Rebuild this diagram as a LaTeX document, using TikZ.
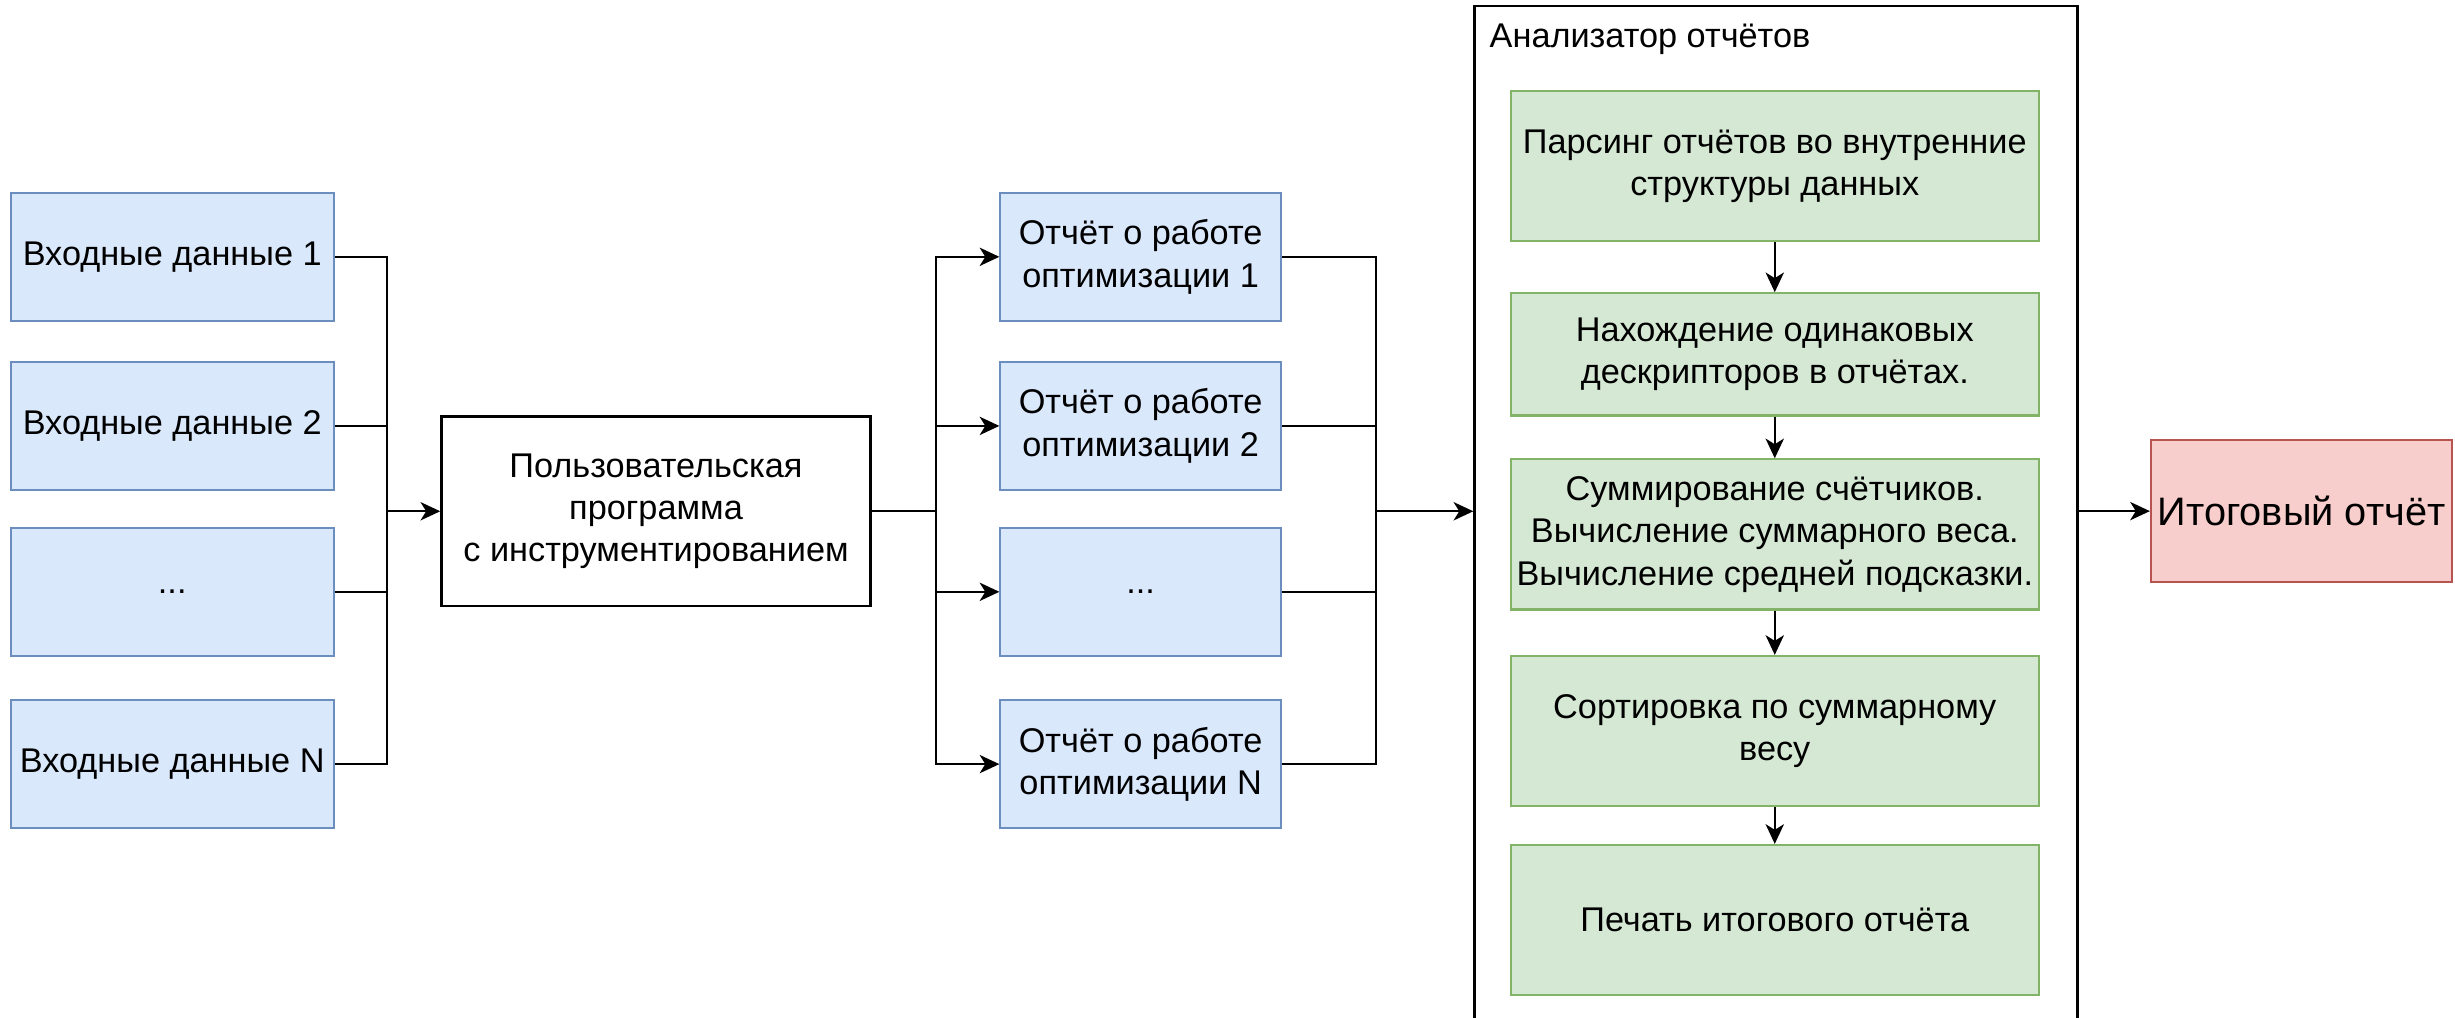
\documentclass[tikz,border=0pt]{standalone}
\usepackage{fontspec}
\setmainfont{Liberation Sans}
\usetikzlibrary{arrows.meta}

\definecolor{bluefill}{HTML}{DAE8FC}
\definecolor{blueline}{HTML}{6C8EBF}
\definecolor{greenfill}{HTML}{D5E8D4}
\definecolor{greenline}{HTML}{82B366}
\definecolor{redfill}{HTML}{F8CECC}
\definecolor{redline}{HTML}{B85450}

\begin{document}
\begin{tikzpicture}[x=0.01cm, y=-0.01cm,
  every node/.style={font=\fontsize{9.75pt}{12pt}\selectfont, align=center, inner sep=0pt},
  wire/.style={line width=0.65pt, draw=black},
  arr/.style={wire, -{Stealth[length=5.6pt, width=5.2pt, inset=1.6pt]}},
  inbox/.style={draw=blueline, fill=bluefill, line width=0.6pt,
    minimum width=3.225cm, minimum height=1.284cm},
  repbox/.style={draw=blueline, fill=bluefill, line width=0.6pt,
    minimum width=2.802cm, minimum height=1.284cm},
  stagebox/.style={draw=greenline, fill=greenfill, line width=0.6pt,
    minimum width=5.275cm, minimum height=1.5cm},
  plainbox/.style={draw=black, line width=0.65pt}]

\clip (0,0) rectangle (2455,1017);

% input data sets
\node[inbox] (in1) at (172.25,256.8) {Входные данные 1};
\node[inbox] (in2) at (172.25,425.9) {Входные данные 2};
\node[inbox] (in3) at (172.25,591.8) {...};
\node[inbox] (inN) at (172.25,764.1) {Входные данные N};

% instrumented user program
\node[plainbox, minimum width=4.29cm, minimum height=1.895cm] (prog) at (656,511.25)
  {Пользовательская\\программа\\с инструментированием};

% optimisation reports
\node[repbox] (r1) at (1140.6,256.8) {Отчёт о работе\\оптимизации 1};
\node[repbox] (r2) at (1140.6,425.9) {Отчёт о работе\\оптимизации 2};
\node[repbox] (r3) at (1140.6,591.8) {...};
\node[repbox] (rN) at (1140.6,764.1) {Отчёт о работе\\оптимизации N};

% report analyser container
\node[plainbox, anchor=north west, minimum width=6.028cm, minimum height=10.5cm]
  (analyzer) at (1473.3,4.7) {};
\node[anchor=west] (title) at (1489,39) {Анализатор отчётов};

% analyser stages
\node[stagebox] (s1) at (1774.75,165.9) {Парсинг отчётов во внутренние\\структуры данных};
\node[stagebox, minimum height=1.222cm] (s2) at (1774.75,354.4)
  {Нахождение одинаковых\\дескрипторов в отчётах.};
\node[stagebox] (s3) at (1774.75,534.4)
  {Суммирование счётчиков.\\Вычисление суммарного веса.\\Вычисление средней подсказки.};
\node[stagebox] (s4) at (1774.75,731) {Сортировка по суммарному\\весу};
\node[stagebox] (s5) at (1774.75,920) {Печать итогового отчёта};

% final report
\node[draw=redline, fill=redfill, line width=0.6pt, minimum width=3.01cm,
  minimum height=1.425cm, font=\fontsize{11.3pt}{13.6pt}\selectfont]
  (final) at (2301.5,511.1) {Итоговый отчёт};

% bus junctions
\coordinate (b1) at (386.7,511.25);
\coordinate (b2) at (936.3,511.25);
\coordinate (b3) at (1376.2,511.25);

% inputs to program
\draw[wire] (in1.east) -| (b1);
\draw[wire] (in2.east) -| (b1);
\draw[wire] (in3.east) -| (b1);
\draw[wire] (inN.east) -| (b1);
\draw[arr] (b1) -- (prog.west);

% program to reports
\draw[wire] (prog.east) -- (b2);
\draw[arr] (b2) |- (r1.west);
\draw[arr] (b2) |- (r2.west);
\draw[arr] (b2) |- (r3.west);
\draw[arr] (b2) |- (rN.west);

% reports to analyser
\draw[wire] (r1.east) -| (b3);
\draw[wire] (r2.east) -| (b3);
\draw[wire] (r3.east) -| (b3);
\draw[wire] (rN.east) -| (b3);
\draw[arr] (b3) -- (b3 -| analyzer.west);

% stage sequence
\draw[arr] (s1) -- (s2);
\draw[arr] (s2) -- (s3);
\draw[arr] (s3) -- (s4);
\draw[arr] (s4) -- (s5);

% analyser to final report
\draw[arr] (final.west -| analyzer.east) -- (final.west);
\end{tikzpicture}
\end{document}
